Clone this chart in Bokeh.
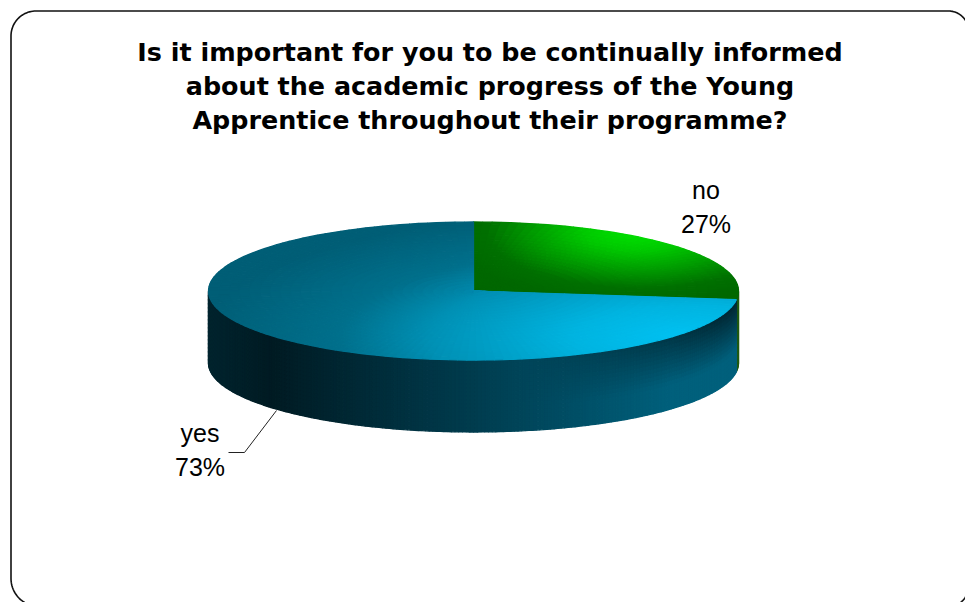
import math
from bokeh.embed import file_html
from bokeh.plotting import figure
from bokeh.resources import INLINE
from bokeh.core.properties import value

# Survey result
categories = ["no", "yes"]
shares = [27, 73]
title_lines = [
    "Is it important for you to be continually informed",
    "about the academic progress of the Young",
    "Apprentice throughout their programme?",
]

W, H = 965, 602
CX, CY, RX, RY, DEPTH = 473.0, 290.5, 265.0, 69.0, 72.0


def lerp_stops(t, stops):
    t = max(stops[0][0], min(stops[-1][0], t))
    for (a, ca), (b, cb) in zip(stops, stops[1:]):
        if t <= b:
            f = (t - a) / (b - a)
            return tuple(ca[i] + (cb[i] - ca[i]) * f for i in range(3))
    return stops[-1][1]


def hex_of(c):
    return "#%02x%02x%02x" % tuple(int(round(v)) for v in c)


def rim(theta, r=1.0, dy=0.0):
    # theta is measured clockwise from twelve o'clock
    return CX + RX * r * math.sin(theta), CY - RY * r * math.cos(theta) + dy


BLUE_STOPS = [(0.0, (0, 194, 243)), (0.25, (0, 180, 224)), (0.56, (0, 144, 180)),
              (0.75, (0, 112, 140)), (1.05, (0, 94, 118))]
GREEN_STOPS = [(0.0, (0, 232, 0)), (0.3, (0, 200, 0)), (0.56, (0, 155, 0)),
               (0.8, (0, 112, 0)), (1.0, (0, 104, 0))]


def blue_top(x, y):
    d = math.hypot((x - 690) / 470.0, (y - 338) / 128.0)
    return hex_of(lerp_stops(d, BLUE_STOPS))


def green_top(x, y):
    d = math.hypot((x - 640) / 190.0, (y - 228) / 75.0)
    return hex_of(lerp_stops(d, GREEN_STOPS))


def side_blue(x, h):
    # h runs from 0 at the upper rim to 1 at the lower rim
    base = lerp_stops((x - 270) / 400.0, [(0.0, (0, 27, 35)), (0.5, (0, 60, 78)), (1.0, (0, 96, 124))])
    if x < 270:
        base = lerp_stops((270 - x) / 62.0, [(0.0, (0, 27, 35)), (1.0, (0, 36, 46))])
    fade = max(0.0, (x - 520) / 210.0)
    k = 1.0 - min(1.0, fade) * 0.6 * (1.0 - min(1.0, h * 1.5))
    return hex_of(tuple(v * k for v in base))


xs, ys, fills = [], [], []


def add_cell(pts, colour):
    xs.append([p[0] for p in pts])
    ys.append([p[1] for p in pts])
    fills.append(colour)


total = sum(shares)
boundary = 2 * math.pi * shares[0] / total
sectors = [(0.0, boundary, green_top), (boundary, 2 * math.pi, blue_top)]

# Cylinder wall: only the front half of the rim is visible
front_start, front_end = math.pi / 2, 3 * math.pi / 2
for a0, a1, is_green in [(front_start, boundary, True), (boundary, front_end, False)]:
    n = max(1, int((a1 - a0) / math.radians(0.8)))
    bands = 1 if is_green else 18
    for i in range(n):
        t0 = a0 + (a1 - a0) * i / n
        t1 = a0 + (a1 - a0) * (i + 1) / n
        for j in range(bands):
            h0, h1 = j / bands, (j + 1) / bands
            pts = [rim(t0, dy=DEPTH * h0), rim(t1, dy=DEPTH * h0), rim(t1, dy=DEPTH * h1), rim(t0, dy=DEPTH * h1)]
            mx = sum(p[0] for p in pts) / 4
            add_cell(pts, "#1f5a10" if is_green else side_blue(mx, (h0 + h1) / 2))

# Top face of each slice, broken into small polar cells for the shading
for a0, a1, shade in sectors:
    n = int((a1 - a0) / math.radians(2.0))
    rings = 26
    for i in range(n):
        t0 = a0 + (a1 - a0) * i / n
        t1 = a0 + (a1 - a0) * (i + 1) / n
        for j in range(rings):
            r0, r1 = j / rings, (j + 1) / rings
            pts = [rim(t0, r0), rim(t1, r0), rim(t1, r1), rim(t0, r1)]
            mx = sum(p[0] for p in pts) / 4
            my = sum(p[1] for p in pts) / 4
            add_cell(pts, shade(mx, my))

p = figure(width=W, height=H, x_range=(0, W), y_range=(H, 0), output_backend="svg",
           toolbar_location=None, min_border=0, outline_line_color=None,
           background_fill_color="white", border_fill_color="white")
p.axis.visible = False
p.grid.visible = False

# Rounded frame, running off the lower and right page edges
L, T, RT, B = 10.5, 10.5, 968.0, 606.0
fx, fy = [], []
for cx0, cy0, r, s, e in [(L + 28, B - 28, 28, 90, 180), (L + 25, T + 25, 25, 180, 270),
                          (RT - 20, T + 20, 20, 270, 360), (RT - 20, B - 20, 20, 0, 90)]:
    for k in range(25):
        a = math.radians(s + (e - s) * k / 24)
        fx.append(cx0 + r * math.cos(a))
        fy.append(cy0 + r * math.sin(a))
p.line(fx + fx[:1], fy + fy[:1], line_color="#111111", line_width=1.6)

# Stroke each cell in its own colour so neighbouring cells leave no seams
p.patches(xs, ys, fill_color=fills, line_color=fills, line_width=1.3)

title_y = [51, 85, 119]
p.text([489.5] * 3, title_y, text=title_lines, text_font=value("DejaVu Sans"), text_font_style="bold",
       text_font_size="25.4px", text_align="center", text_baseline="middle", text_color="black")

label_x = {"no": 705.5, "yes": 199.5}
label_y = {"no": (189.5, 223), "yes": (432.5, 466)}
for name, share in zip(categories, shares):
    p.text([label_x[name]], [label_y[name][0]], text=[name], text_font=value("Liberation Sans"),
           text_font_size="25px", text_align="center", text_baseline="middle", text_color="black")
    p.text([label_x[name]], [label_y[name][1]], text=[f"{share}%"], text_font=value("Liberation Sans"),
           text_font_size="25px", text_align="center", text_baseline="middle", text_color="black")

# Leader from the yes label to the wall
p.line([228, 244, 276], [452, 452, 410], line_color="#222222", line_width=1)

open("out.html", "w").write(file_html(p, INLINE))
